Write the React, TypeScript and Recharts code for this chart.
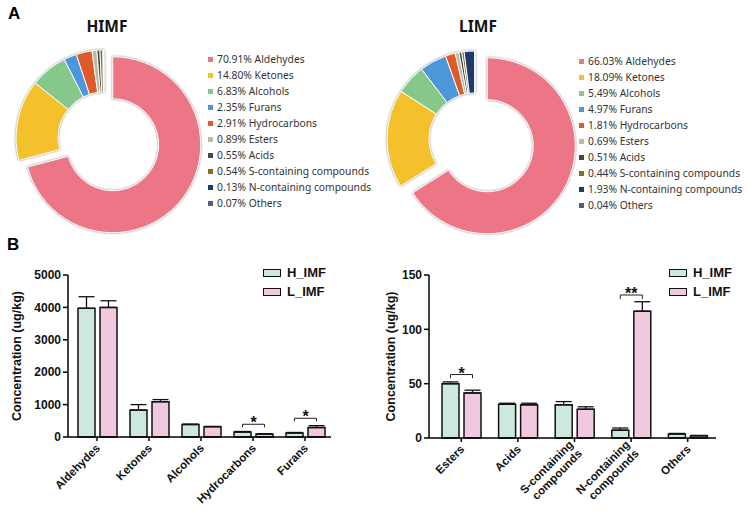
import { PieChart, Pie, Cell, BarChart, Bar, XAxis, YAxis, ErrorBar, LabelList } from 'recharts'

// pie panels (A)
const classes = ['Aldehydes', 'Ketones', 'Alcohols', 'Furans', 'Hydrocarbons', 'Esters', 'Acids', 'S-containing compounds', 'N-containing compounds', 'Others']
const himfShare = [70.91, 14.8, 6.83, 2.35, 2.91, 0.89, 0.55, 0.54, 0.13, 0.07]
const limfShare = [66.03, 18.09, 5.49, 4.97, 1.81, 0.69, 0.51, 0.44, 1.93, 0.04]
const sliceColors = ['#ec7686', '#f4c12c', '#86c88a', '#4b97da', '#df5a29', '#b9baa1', '#464646', '#8b6d1d', '#203a6e', '#555b78']

// bar panels (B)
const seriesNames = ['H_IMF', 'L_IMF']
const seriesFill = ['#cde8dc', '#f1c9de']

const leftCats = ['Aldehydes', 'Ketones', 'Alcohols', 'Hydrocarbons', 'Furans']
const leftH = [3970, 830, 385, 155, 125]
const leftHErr = [360, 170, 12, 15, 15]
const leftL = [4000, 1090, 320, 93, 290]
const leftLErr = [205, 65, 8, 8, 60]
const leftSig = ['', '', '', '*', '*']
const leftSigTop = [0, 0, 0, 393, 578]
const leftSigLeg = [0, 0, 0, 300, 485]
const leftTicks = [0, 1000, 2000, 3000, 4000, 5000]

const rightCats = ['Esters', 'Acids', 'S-containing compounds', 'N-containing compounds', 'Others']
const rightH = [50, 31, 30.5, 7.2, 3.7]
const rightHErr = [1.6, 1, 3, 2, 0.5]
const rightL = [41.5, 30.5, 26.5, 116.7, 2.1]
const rightLErr = [2.5, 1.5, 2.2, 8.7, 0.3]
const rightSig = ['*', '', '', '**', '']
const rightSigTop = [58.4, 0, 0, 131.6, 0]
const rightSigLeg = [55, 0, 0, 127.9, 0]
const rightTicks = [0, 50, 100, 150]

const ARIAL = '"Liberation Sans", Arial, sans-serif'
const BAR_GAP = 5
const BAR_SIZE = 17

function Donut({ title, share, cx, cy, pull, titleX, legendX, legendY }: any) {
  const data = classes.map((name, i) => ({ name, value: share[i] }))
  const total = share.reduce((a: number, b: number) => a + b, 0)
  const mid = (share[0] / total / 2) * 2 * Math.PI
  const dx = pull * Math.sin(mid)
  const dy = -pull * Math.cos(mid)
  const common = {
    data,
    dataKey: 'value',
    innerRadius: 46,
    outerRadius: 88,
    startAngle: 90,
    endAngle: -270,
    isAnimationActive: false,
  }
  return (
    <>
      <div style={{ position: 'absolute', left: 0, top: 0, filter: 'drop-shadow(0 0 1.2px rgba(0,0,0,0.45))' }}>
        <PieChart width={370} height={240}>
          <Pie {...common} cx={cx} cy={cy}>
            {data.map((d, i) => (
              <Cell key={d.name} fill={i === 0 ? 'none' : sliceColors[i]} stroke={i === 0 ? 'none' : '#fff'} strokeWidth={1} />
            ))}
          </Pie>
          <Pie {...common} cx={cx + dx} cy={cy + dy}>
            {data.map((d, i) => (
              <Cell key={d.name} fill={i === 0 ? sliceColors[0] : 'none'} stroke={i === 0 ? '#fff' : 'none'} strokeWidth={1} />
            ))}
          </Pie>
        </PieChart>
      </div>
      <div style={{ position: 'absolute', left: titleX - 40, width: 80, top: 15, textAlign: 'center', fontFamily: '"Noto Sans", sans-serif', fontWeight: 700, fontSize: 15.5, color: '#111' }}>
        {title}
      </div>
      <div style={{ position: 'absolute', left: legendX, top: legendY, fontFamily: '"Noto Sans", sans-serif', fontSize: 10.3, lineHeight: '16px', color: '#333' }}>
        {classes.map((c, i) => (
          <div key={c} style={{ display: 'flex', alignItems: 'center', whiteSpace: 'nowrap' }}>
            <span style={{ width: 5, height: 5, background: sliceColors[i], marginRight: 4, display: 'inline-block' }} />
            {share[i].toFixed(2)}% {c}
          </div>
        ))}
      </div>
    </>
  )
}

function AngledTick({ x, y, payload }: any) {
  const lines = String(payload.value).split(' ')
  return (
    <g transform={`translate(${x + 1},${y + 3})`}>
      <text transform="rotate(-45)" textAnchor="end" fontFamily={ARIAL} fontWeight="bold" fontSize={11.5} fill="#111">
        {lines.map((ln, i) => (
          <tspan key={i} x={0} dy={i === 0 ? (lines.length > 1 ? '-0.2em' : '0.35em') : '1.1em'}>
            {ln}
          </tspan>
        ))}
      </text>
    </g>
  )
}

function makeSig(sig: string[], top: number[], leg: number[]) {
  return (p: any) => {
    const { x, y, width, height, value, index } = p
    if (!sig[index] || !value) return null
    const base = y + height
    const k = height / value
    const yTop = base - top[index] * k
    const yLeg = base - leg[index] * k
    const x2 = x + width / 2
    const x1 = x - BAR_GAP - width / 2
    return (
      <g>
        <path d={`M${x1},${yLeg}V${yTop}H${x2}V${yLeg}`} fill="none" stroke="#222" strokeWidth={1} />
        <text x={(x1 + x2) / 2} y={yTop + 4} textAnchor="middle" fontFamily={ARIAL} fontWeight="bold" fontSize={16} fill="#111">
          {sig[index]}
        </text>
      </g>
    )
  }
}

function GroupBars({ cats, h, hErr, l, lErr, sig, sigTop, sigLeg, ticks, yWidth, right, bottom, padLeft, labelX, legendX }: any) {
  const data = cats.map((name: string, i: number) => ({
    name,
    h: h[i],
    l: l[i],
    hErr: [0, hErr[i]],
    lErr: [0, lErr[i]],
  }))
  const axisStyle = { stroke: '#000', strokeWidth: 1.5 }
  return (
    <>
      <div style={{ position: 'absolute', left: 0, top: 230 }}>
        <BarChart width={374} height={285} data={data} margin={{ top: 45, right, bottom, left: 0 }} barGap={BAR_GAP}>
          <XAxis
            dataKey="name"
            height={30}
            interval={0}
            tick={(p: any) => <AngledTick {...p} />}
            tickSize={4}
            tickLine={axisStyle}
            axisLine={axisStyle}
            padding={{ left: padLeft, right: 0 }}
          />
          <YAxis
            width={yWidth}
            domain={[0, ticks[ticks.length - 1]]}
            ticks={ticks}
            tickSize={5}
            tickLine={axisStyle}
            axisLine={axisStyle}
            tick={{ fontSize: 12, fontWeight: 'bold', fill: '#111', fontFamily: ARIAL }}
            label={{
              content: (p: any) => {
                const vb = p.viewBox
                const cy = vb.y + vb.height / 2
                return (
                  <text x={labelX} y={cy} transform={`rotate(-90, ${labelX}, ${cy})`} textAnchor="middle" dominantBaseline="central" fontFamily={ARIAL} fontWeight="bold" fontSize={12.5} fill="#111">
                    Concentration (ug/kg)
                  </text>
                )
              },
            }}
          />
          <Bar dataKey="h" name={seriesNames[0]} fill={seriesFill[0]} stroke="#111" strokeWidth={1.5} barSize={BAR_SIZE} isAnimationActive={false}>
            <ErrorBar dataKey="hErr" direction="y" width={8} stroke="#111" strokeWidth={1.3} />
          </Bar>
          <Bar dataKey="l" name={seriesNames[1]} fill={seriesFill[1]} stroke="#111" strokeWidth={1.5} barSize={BAR_SIZE} isAnimationActive={false}>
            <ErrorBar dataKey="lErr" direction="y" width={8} stroke="#111" strokeWidth={1.3} />
            <LabelList dataKey="l" content={makeSig(sig, sigTop, sigLeg)} />
          </Bar>
        </BarChart>
      </div>
      <div style={{ position: 'absolute', left: legendX, top: 263, fontFamily: ARIAL, fontWeight: 700, fontSize: 13, lineHeight: '19px', color: '#111' }}>
        {seriesNames.map((s, i) => (
          <div key={s} style={{ display: 'flex', alignItems: 'center', whiteSpace: 'nowrap' }}>
            <span style={{ width: 16, height: 6, background: seriesFill[i], border: '1.3px solid #111', marginRight: 6, display: 'inline-block' }} />
            {s}
          </div>
        ))}
      </div>
    </>
  )
}

export default function App() {
  return (
    <div style={{ position: 'relative', width: 748, height: 515, background: '#fff', overflow: 'hidden' }}>
      <style>{'body{margin:0}'}</style>
      <div style={{ position: 'absolute', left: 8, top: 4, fontFamily: ARIAL, fontWeight: 700, fontSize: 17 }}>A</div>
      <div style={{ position: 'absolute', left: 7, top: 235, fontFamily: ARIAL, fontWeight: 700, fontSize: 17 }}>B</div>

      <Donut title="HIMF" share={himfShare} cx={99} cy={133} pull={11} titleX={107} legendX={208} legendY={51} />
      <div style={{ position: 'absolute', left: 372, top: 0 }}>
        <Donut title="LIMF" share={limfShare} cx={98} cy={134} pull={14} titleX={106} legendX={207} legendY={53} />
      </div>

      <GroupBars
        cats={leftCats}
        h={leftH}
        hErr={leftHErr}
        l={leftL}
        lErr={leftLErr}
        sig={leftSig}
        sigTop={leftSigTop}
        sigLeg={leftSigLeg}
        ticks={leftTicks}
        yWidth={68}
        right={43}
        bottom={48}
        padLeft={3}
        labelX={17}
        legendX={263}
      />
      <div style={{ position: 'absolute', left: 374, top: 0 }}>
        <GroupBars
          cats={rightCats}
          h={rightH}
          hErr={rightHErr}
          l={rightL}
          lErr={rightLErr}
          sig={rightSig}
          sigTop={rightSigTop}
          sigLeg={rightSigLeg}
          ticks={rightTicks}
          yWidth={55}
          right={32}
          bottom={47}
          padLeft={4}
          labelX={17}
          legendX={295}
        />
      </div>
    </div>
  )
}
